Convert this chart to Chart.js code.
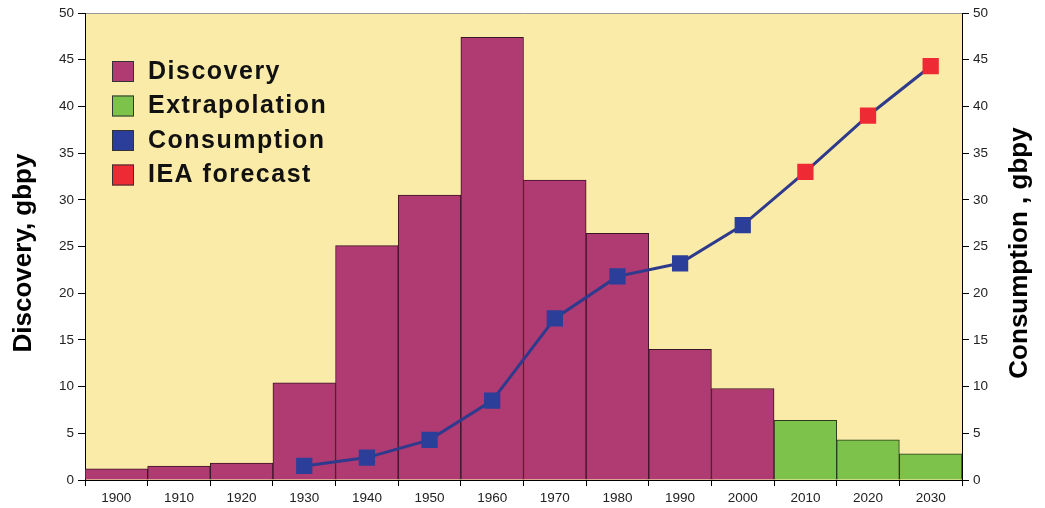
<!DOCTYPE html>
<html lang="en">
<head>
  <meta charset="UTF-8">
  <title>Discovery vs Consumption</title>
  <script src="https://cdn.jsdelivr.net/npm/chart.js"></script>
  <style>
    html, body { margin: 0; padding: 0; background: #fff; }
    canvas { display: block; }
  </style>
</head>
<body>
  <canvas id="oilChart" width="1045" height="508"></canvas>

  <script>
    // data (gbpy)
    var years = ['1900', '1910', '1920', '1930', '1940', '1950', '1960', '1970', '1980', '1990', '2000', '2010', '2020', '2030'];
    var discovery = [1.2, 1.5, 1.8, 10.4, 25.1, 30.5, 47.4, 32.1, 26.4, 14.0, 9.8, null, null, null];
    var extrapolation = [null, null, null, null, null, null, null, null, null, null, null, 6.4, 4.3, 2.8];
    var consumption = [null, null, null, 1.5, 2.4, 4.3, 8.5, 17.3, 21.8, 23.2, 27.3, null, null, null];
    var ieaForecast = [null, null, null, null, null, null, null, null, null, null, null, 33.0, 39.0, 44.3];
    var axisMin = 0, axisMax = 50, axisStep = 5;

    var purple = '#B03A72', green = '#7DC24B', blue = '#2B3F9A', red = '#EE2A35';
    var lineData = consumption.map(function (v, i) { return v !== null ? v : ieaForecast[i]; });
    var pointColors = consumption.map(function (v) { return v !== null ? blue : red; });

    var legendItems = [
      { text: 'Discovery', color: purple },
      { text: 'Extrapolation', color: green },
      { text: 'Consumption', color: blue },
      { text: 'IEA forecast', color: red }
    ];

    // legend inside the plot + the two rotated axis titles
    var decorPlugin = {
      id: 'decor',
      beforeDraw: function (chart) {
        var a = chart.chartArea, ctx = chart.ctx;
        ctx.save();
        ctx.fillStyle = '#FBEBA8';
        ctx.fillRect(a.left, a.top, a.right - a.left, a.bottom - a.top);
        ctx.strokeStyle = '#999';
        ctx.lineWidth = 1;
        ctx.beginPath();
        ctx.moveTo(a.left, a.top + 0.5);
        ctx.lineTo(a.right, a.top + 0.5);
        ctx.stroke();
        ctx.restore();
      },
      afterDraw: function (chart) {
        var ctx = chart.ctx;
        ctx.save();
        ctx.font = 'bold 25px "Liberation Sans", Arial, sans-serif';
        ctx.letterSpacing = '1.5px';
        ctx.textBaseline = 'middle';
        legendItems.forEach(function (it, i) {
          var cy = 71 + i * 34.5;
          ctx.fillStyle = it.color;
          ctx.fillRect(112, cy - 10, 22, 21);
          ctx.strokeStyle = '#333';
          ctx.lineWidth = 1;
          ctx.strokeRect(112.5, cy - 9.5, 21, 20);
          ctx.fillStyle = '#111';
          ctx.fillText(it.text, 148, cy + 1);
        });

        ctx.letterSpacing = '0px';
        ctx.font = 'bold 26px "Liberation Sans", Arial, sans-serif';
        ctx.textAlign = 'center';
        ctx.fillStyle = '#000';
        ctx.translate(24, 253);
        ctx.rotate(-Math.PI / 2);
        ctx.fillText('Discovery, gbpy', 0, 0);
        ctx.restore();

        ctx.save();
        ctx.font = 'bold 26px "Liberation Sans", Arial, sans-serif';
        ctx.textAlign = 'center';
        ctx.textBaseline = 'middle';
        ctx.fillStyle = '#000';
        ctx.translate(1020, 253);
        ctx.rotate(-Math.PI / 2);
        ctx.fillText('Consumption , gbpy', 0, 0);
        ctx.restore();
      }
    };

    var tickFont = { family: '"Liberation Sans", Arial, sans-serif', size: 13.5 };

    var ctx = document.getElementById('oilChart').getContext('2d');
    var oilChart = new Chart(ctx, {
      data: {
        labels: years,
        datasets: [
          {
            type: 'line',
            label: 'Consumption',
            data: lineData,
            borderColor: '#2E3A8C',
            borderWidth: 3,
            pointStyle: 'rect',
            pointRadius: 11.5,
            pointBackgroundColor: pointColors,
            pointBorderColor: pointColors,
            pointBorderWidth: 0,
            tension: 0,
            yAxisID: 'y2',
            order: 0
          },
          {
            type: 'bar',
            label: 'Discovery',
            data: discovery,
            backgroundColor: purple,
            borderColor: '#3A1426',
            borderWidth: 1,
            grouped: false,
            barPercentage: 1,
            categoryPercentage: 1,
            yAxisID: 'y',
            order: 1
          },
          {
            type: 'bar',
            label: 'Extrapolation',
            data: extrapolation,
            backgroundColor: green,
            borderColor: '#2A3A1A',
            borderWidth: 1,
            grouped: false,
            barPercentage: 1,
            categoryPercentage: 1,
            yAxisID: 'y',
            order: 1
          }
        ]
      },
      options: {
        responsive: false,
        animation: false,
        devicePixelRatio: 1,
        layout: { padding: { top: 13, left: 0, right: 0, bottom: 0 } },
        plugins: {
          legend: { display: false },
          tooltip: { enabled: false }
        },
        scales: {
          x: {
            offset: true,
            grid: { offset: true, drawOnChartArea: false, color: '#000', tickLength: 6 },
            border: { color: '#000', width: 1 },
            ticks: { color: '#222', font: tickFont, padding: 4, maxRotation: 0, autoSkip: false },
            afterFit: function (s) { s.height = 28; }
          },
          y: {
            position: 'left',
            min: axisMin,
            max: axisMax,
            grid: { drawOnChartArea: false, color: '#000', tickLength: 7 },
            border: { color: '#000', width: 1 },
            ticks: { color: '#222', font: tickFont, padding: 4, stepSize: axisStep, autoSkip: false },
            afterFit: function (s) { s.width = 85; }
          },
          y2: {
            position: 'right',
            min: axisMin,
            max: axisMax,
            grid: { drawOnChartArea: false, color: '#000', tickLength: 7 },
            border: { color: '#000', width: 1 },
            ticks: { color: '#222', font: tickFont, padding: 4, stepSize: axisStep, autoSkip: false },
            afterFit: function (s) { s.width = 83; }
          }
        }
      },
      plugins: [decorPlugin]
    });
  </script>
</body>
</html>
